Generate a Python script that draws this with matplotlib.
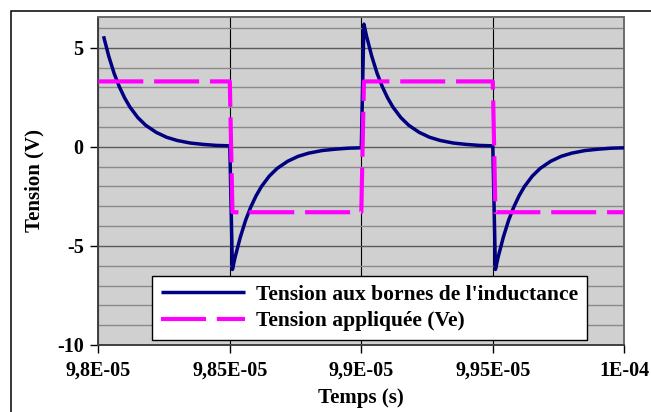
import numpy as np
import matplotlib
matplotlib.use("Agg")
import matplotlib.pyplot as plt
from matplotlib.patches import Rectangle
from matplotlib.ticker import MultipleLocator

plt.rcParams['font.family'] = ['Liberation Serif', 'DejaVu Serif']
plt.rcParams['font.weight'] = 'bold'
plt.rcParams['axes.unicode_minus'] = False

# tension aux bornes de L, temps en microsecondes
t_L_us = [98.02, 98.04, 98.06, 98.08, 98.10, 98.12, 98.15, 98.18, 98.22, 98.26, 98.30, 98.35, 98.40, 98.45, 98.50,
          98.51, 98.52, 98.54, 98.56, 98.58, 98.60, 98.62, 98.65, 98.68, 98.72, 98.76, 98.80, 98.85, 98.90, 98.95, 99.00,
          99.01, 99.02, 99.04, 99.06, 99.08, 99.10, 99.12, 99.15, 99.18, 99.22, 99.26, 99.30, 99.35, 99.40, 99.45, 99.50,
          99.51, 99.52, 99.54, 99.56, 99.58, 99.60, 99.62, 99.65, 99.68, 99.72, 99.76, 99.80, 99.85, 99.90, 99.95, 100.00]
v_L = [5.58, 4.56, 3.71, 3.03, 2.47, 2.01, 1.48, 1.09, 0.73, 0.48, 0.32, 0.19, 0.12, 0.07, 0.05,
       -6.19, -5.58, -4.56, -3.71, -3.03, -2.47, -2.01, -1.48, -1.09, -0.73, -0.48, -0.32, -0.19, -0.12, -0.07, -0.05,
       6.19, 5.58, 4.56, 3.71, 3.03, 2.47, 2.01, 1.48, 1.09, 0.73, 0.48, 0.32, 0.19, 0.12, 0.07, 0.05,
       -6.19, -5.58, -4.56, -3.71, -3.03, -2.47, -2.01, -1.48, -1.09, -0.73, -0.48, -0.32, -0.19, -0.12, -0.07, -0.05]

# tension appliquee (creneau)
t_e_us = [98.00, 98.50, 98.51, 99.00, 99.01, 99.50, 99.51, 100.00]
v_e = [3.3, 3.3, -3.3, -3.3, 3.3, 3.3, -3.3, -3.3]

x_ticks_us = [98.0, 98.5, 99.0, 99.5, 100.0]
x_labels = ['9,8E-05', '9,85E-05', '9,9E-05', '9,95E-05', '1E-04']
y_ticks = [-10, -5, 0, 5]

t_L = np.array(t_L_us) * 1e-6
t_e = np.array(t_e_us) * 1e-6
x_ticks = np.array(x_ticks_us) * 1e-6

fig = plt.figure(figsize=(6.51, 4.12), dpi=100)
ax = fig.add_axes([98.3 / 651, 67 / 412, 526 / 651, 328 / 412])
ax.set_facecolor('#d0d0d0')

# cadre du graphique
fig.add_artist(Rectangle((10.7 / 651, -0.1), 1.2, 1.1 - 11.3 / 412,
                         transform=fig.transFigure, fill=False, edgecolor='black', lw=1.1))

ax.plot(t_L, v_L, color='#000080', lw=2.5, solid_capstyle='butt',
        label="Tension aux bornes de l'inductance", zorder=3)
ax.plot(t_e, v_e, color='#ff00ff', lw=3, dashes=(10.8, 2.6), dash_capstyle='butt',
        label='Tension appliquée (Ve)', zorder=3)

ax.set_xlim(x_ticks[0], x_ticks[-1])
ax.set_ylim(-10, 6.55)
ax.set_xticks(x_ticks)
ax.set_xticklabels(x_labels)
ax.set_yticks(y_ticks)
ax.yaxis.set_minor_locator(MultipleLocator(1))
ax.tick_params(axis='both', which='major', direction='out', length=5.5, width=1, labelsize=14.5)
ax.tick_params(axis='x', which='major', pad=6)
ax.tick_params(axis='y', which='major', pad=5)
ax.tick_params(axis='y', which='minor', length=0)

ax.grid(axis='y', which='minor', color='#8a8a8a', lw=1.0, zorder=1)
ax.grid(axis='y', which='major', color='#5a5a5a', lw=1.0, zorder=1)
ax.grid(axis='x', which='major', color='black', lw=0.8, zorder=1)
ax.set_axisbelow(True)

for s in ax.spines.values():
    s.set_color('#6a6a6a')
    s.set_linewidth(1.4)
ax.spines['left'].set_color('#404040')
ax.spines['bottom'].set_color('#404040')

ax.set_xlabel('Temps (s)', fontsize=15, fontweight='bold', labelpad=5)
ax.set_ylabel('Tension (V)', fontsize=15, fontweight='bold', labelpad=9)

leg = ax.legend(loc='lower left', bbox_to_anchor=((152 - 98.3) / 526, (345 - 339.7) / 328),
                fontsize=15.5, handlelength=3.9, frameon=True, fancybox=False,
                borderpad=0.4, labelspacing=0.3, handletextpad=0.55, borderaxespad=0)
leg.get_frame().set_edgecolor('black')
leg.get_frame().set_linewidth(1.0)
leg.get_frame().set_alpha(1)

fig.savefig('out.png', dpi=100)
